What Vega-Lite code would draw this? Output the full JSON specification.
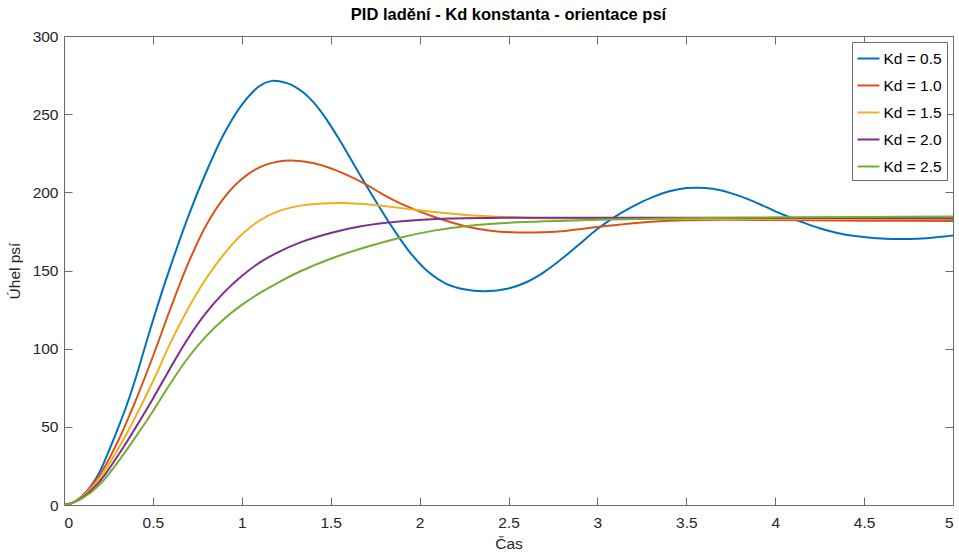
{
  "$schema": "https://vega.github.io/schema/vega-lite/v6.json",
  "autosize": "none",
  "width": 889,
  "height": 469,
  "padding": {"left": 64, "top": 36, "right": 6, "bottom": 49},
  "background": "white",
  "title": {
    "text": "PID ladění - Kd konstanta - orientace psí",
    "font": "Liberation Sans",
    "fontSize": 16.5,
    "fontWeight": "bold",
    "color": "#000000",
    "anchor": "middle",
    "offset": 6
  },
  "config": {
    "font": "Liberation Sans",
    "view": {"stroke": null},
    "axis": {
      "grid": false,
      "domainColor": "#6b6b6b",
      "domainWidth": 1,
      "tickColor": "#6b6b6b",
      "tickWidth": 1,
      "tickSize": -8,
      "labelFont": "Liberation Sans",
      "labelFontSize": 15.5,
      "labelColor": "#262626",
      "titleFont": "Liberation Sans",
      "titleFontSize": 15.5,
      "titleFontWeight": "normal",
      "titleColor": "#262626"
    }
  },
  "data": {
    "values": [
      {"t": 0, "s": "Kd = 0.5", "v": 0}, {"t": 0.05, "s": "Kd = 0.5", "v": 1.5}, {"t": 0.1, "s": "Kd = 0.5", "v": 5.5}, {"t": 0.15, "s": "Kd = 0.5", "v": 12}, {"t": 0.2, "s": "Kd = 0.5", "v": 21}, {"t": 0.25, "s": "Kd = 0.5", "v": 34}, {"t": 0.3, "s": "Kd = 0.5", "v": 48}, {"t": 0.35, "s": "Kd = 0.5", "v": 63}, {"t": 0.4, "s": "Kd = 0.5", "v": 80}, {"t": 0.45, "s": "Kd = 0.5", "v": 99}, {"t": 0.5, "s": "Kd = 0.5", "v": 118}, {"t": 0.55, "s": "Kd = 0.5", "v": 136}, {"t": 0.6, "s": "Kd = 0.5", "v": 153}, {"t": 0.7, "s": "Kd = 0.5", "v": 185}, {"t": 0.8, "s": "Kd = 0.5", "v": 213}, {"t": 0.9, "s": "Kd = 0.5", "v": 237.5}, {"t": 1.0, "s": "Kd = 0.5", "v": 256}, {"t": 1.1, "s": "Kd = 0.5", "v": 268}, {"t": 1.17, "s": "Kd = 0.5", "v": 271.3}, {"t": 1.25, "s": "Kd = 0.5", "v": 270}, {"t": 1.3, "s": "Kd = 0.5", "v": 267.5}, {"t": 1.35, "s": "Kd = 0.5", "v": 263.5}, {"t": 1.4, "s": "Kd = 0.5", "v": 258}, {"t": 1.45, "s": "Kd = 0.5", "v": 251}, {"t": 1.55, "s": "Kd = 0.5", "v": 233.5}, {"t": 1.65, "s": "Kd = 0.5", "v": 214}, {"t": 1.75, "s": "Kd = 0.5", "v": 195}, {"t": 1.85, "s": "Kd = 0.5", "v": 177}, {"t": 1.95, "s": "Kd = 0.5", "v": 161}, {"t": 2.05, "s": "Kd = 0.5", "v": 149}, {"t": 2.15, "s": "Kd = 0.5", "v": 141.5}, {"t": 2.25, "s": "Kd = 0.5", "v": 138}, {"t": 2.37, "s": "Kd = 0.5", "v": 136.8}, {"t": 2.5, "s": "Kd = 0.5", "v": 138.5}, {"t": 2.6, "s": "Kd = 0.5", "v": 142.5}, {"t": 2.7, "s": "Kd = 0.5", "v": 149}, {"t": 2.8, "s": "Kd = 0.5", "v": 157.5}, {"t": 2.9, "s": "Kd = 0.5", "v": 167}, {"t": 3.0, "s": "Kd = 0.5", "v": 176.5}, {"t": 3.1, "s": "Kd = 0.5", "v": 184.5}, {"t": 3.2, "s": "Kd = 0.5", "v": 191}, {"t": 3.3, "s": "Kd = 0.5", "v": 196.5}, {"t": 3.4, "s": "Kd = 0.5", "v": 200.5}, {"t": 3.5, "s": "Kd = 0.5", "v": 202.7}, {"t": 3.56, "s": "Kd = 0.5", "v": 203}, {"t": 3.65, "s": "Kd = 0.5", "v": 202.3}, {"t": 3.75, "s": "Kd = 0.5", "v": 199.5}, {"t": 3.85, "s": "Kd = 0.5", "v": 195.5}, {"t": 3.95, "s": "Kd = 0.5", "v": 190.5}, {"t": 4.05, "s": "Kd = 0.5", "v": 185.5}, {"t": 4.15, "s": "Kd = 0.5", "v": 181}, {"t": 4.25, "s": "Kd = 0.5", "v": 177}, {"t": 4.35, "s": "Kd = 0.5", "v": 174}, {"t": 4.45, "s": "Kd = 0.5", "v": 172}, {"t": 4.55, "s": "Kd = 0.5", "v": 170.8}, {"t": 4.65, "s": "Kd = 0.5", "v": 170.2}, {"t": 4.75, "s": "Kd = 0.5", "v": 170.1}, {"t": 4.85, "s": "Kd = 0.5", "v": 170.6}, {"t": 4.95, "s": "Kd = 0.5", "v": 171.7}, {"t": 5.0, "s": "Kd = 0.5", "v": 172.4},

      {"t": 0, "s": "Kd = 1.0", "v": 0}, {"t": 0.05, "s": "Kd = 1.0", "v": 1.5}, {"t": 0.1, "s": "Kd = 1.0", "v": 5.5}, {"t": 0.2, "s": "Kd = 1.0", "v": 19}, {"t": 0.3, "s": "Kd = 1.0", "v": 40}, {"t": 0.4, "s": "Kd = 1.0", "v": 66}, {"t": 0.5, "s": "Kd = 1.0", "v": 95}, {"t": 0.6, "s": "Kd = 1.0", "v": 126}, {"t": 0.7, "s": "Kd = 1.0", "v": 155}, {"t": 0.8, "s": "Kd = 1.0", "v": 179}, {"t": 0.9, "s": "Kd = 1.0", "v": 196.5}, {"t": 1.0, "s": "Kd = 1.0", "v": 208.5}, {"t": 1.1, "s": "Kd = 1.0", "v": 216}, {"t": 1.2, "s": "Kd = 1.0", "v": 219.5}, {"t": 1.28, "s": "Kd = 1.0", "v": 220.3}, {"t": 1.4, "s": "Kd = 1.0", "v": 218.7}, {"t": 1.52, "s": "Kd = 1.0", "v": 214.5}, {"t": 1.7, "s": "Kd = 1.0", "v": 205}, {"t": 1.78, "s": "Kd = 1.0", "v": 199.6}, {"t": 1.9, "s": "Kd = 1.0", "v": 192.5}, {"t": 2.08, "s": "Kd = 1.0", "v": 184.4}, {"t": 2.27, "s": "Kd = 1.0", "v": 178}, {"t": 2.4, "s": "Kd = 1.0", "v": 175.5}, {"t": 2.55, "s": "Kd = 1.0", "v": 174.3}, {"t": 2.7, "s": "Kd = 1.0", "v": 174.5}, {"t": 2.83, "s": "Kd = 1.0", "v": 175.5}, {"t": 3.0, "s": "Kd = 1.0", "v": 177.8}, {"t": 3.2, "s": "Kd = 1.0", "v": 180.3}, {"t": 3.4, "s": "Kd = 1.0", "v": 181.8}, {"t": 3.7, "s": "Kd = 1.0", "v": 182.4}, {"t": 4.0, "s": "Kd = 1.0", "v": 182.3}, {"t": 4.5, "s": "Kd = 1.0", "v": 181.9}, {"t": 5.0, "s": "Kd = 1.0", "v": 181.6},

      {"t": 0, "s": "Kd = 1.5", "v": 0}, {"t": 0.05, "s": "Kd = 1.5", "v": 1.5}, {"t": 0.1, "s": "Kd = 1.5", "v": 5}, {"t": 0.2, "s": "Kd = 1.5", "v": 17}, {"t": 0.3, "s": "Kd = 1.5", "v": 35}, {"t": 0.4, "s": "Kd = 1.5", "v": 56}, {"t": 0.5, "s": "Kd = 1.5", "v": 79}, {"t": 0.6, "s": "Kd = 1.5", "v": 104}, {"t": 0.7, "s": "Kd = 1.5", "v": 126}, {"t": 0.8, "s": "Kd = 1.5", "v": 145}, {"t": 0.9, "s": "Kd = 1.5", "v": 160.5}, {"t": 1.0, "s": "Kd = 1.5", "v": 173}, {"t": 1.1, "s": "Kd = 1.5", "v": 182}, {"t": 1.2, "s": "Kd = 1.5", "v": 187.7}, {"t": 1.33, "s": "Kd = 1.5", "v": 191.5}, {"t": 1.45, "s": "Kd = 1.5", "v": 192.9}, {"t": 1.57, "s": "Kd = 1.5", "v": 193.2}, {"t": 1.7, "s": "Kd = 1.5", "v": 192.4}, {"t": 1.8, "s": "Kd = 1.5", "v": 191.2}, {"t": 2.0, "s": "Kd = 1.5", "v": 188.5}, {"t": 2.2, "s": "Kd = 1.5", "v": 186.2}, {"t": 2.36, "s": "Kd = 1.5", "v": 184.9}, {"t": 2.6, "s": "Kd = 1.5", "v": 183.8}, {"t": 3.0, "s": "Kd = 1.5", "v": 183.2}, {"t": 4.0, "s": "Kd = 1.5", "v": 183}, {"t": 5.0, "s": "Kd = 1.5", "v": 183},

      {"t": 0, "s": "Kd = 2.0", "v": 0}, {"t": 0.05, "s": "Kd = 2.0", "v": 1.5}, {"t": 0.1, "s": "Kd = 2.0", "v": 4.5}, {"t": 0.2, "s": "Kd = 2.0", "v": 15}, {"t": 0.3, "s": "Kd = 2.0", "v": 31}, {"t": 0.4, "s": "Kd = 2.0", "v": 49}, {"t": 0.5, "s": "Kd = 2.0", "v": 68}, {"t": 0.6, "s": "Kd = 2.0", "v": 88}, {"t": 0.7, "s": "Kd = 2.0", "v": 107}, {"t": 0.8, "s": "Kd = 2.0", "v": 123}, {"t": 0.9, "s": "Kd = 2.0", "v": 136}, {"t": 1.0, "s": "Kd = 2.0", "v": 146.5}, {"t": 1.1, "s": "Kd = 2.0", "v": 155}, {"t": 1.2, "s": "Kd = 2.0", "v": 161.5}, {"t": 1.33, "s": "Kd = 2.0", "v": 168}, {"t": 1.5, "s": "Kd = 2.0", "v": 174}, {"t": 1.67, "s": "Kd = 2.0", "v": 178.3}, {"t": 1.9, "s": "Kd = 2.0", "v": 181.5}, {"t": 2.17, "s": "Kd = 2.0", "v": 183.2}, {"t": 2.5, "s": "Kd = 2.0", "v": 183.8}, {"t": 3.0, "s": "Kd = 2.0", "v": 183.8}, {"t": 4.0, "s": "Kd = 2.0", "v": 183.6}, {"t": 5.0, "s": "Kd = 2.0", "v": 183.5},

      {"t": 0, "s": "Kd = 2.5", "v": 0}, {"t": 0.05, "s": "Kd = 2.5", "v": 1.5}, {"t": 0.1, "s": "Kd = 2.5", "v": 4}, {"t": 0.2, "s": "Kd = 2.5", "v": 13}, {"t": 0.3, "s": "Kd = 2.5", "v": 27}, {"t": 0.4, "s": "Kd = 2.5", "v": 43}, {"t": 0.5, "s": "Kd = 2.5", "v": 60}, {"t": 0.6, "s": "Kd = 2.5", "v": 78}, {"t": 0.7, "s": "Kd = 2.5", "v": 94.5}, {"t": 0.8, "s": "Kd = 2.5", "v": 108}, {"t": 0.9, "s": "Kd = 2.5", "v": 119}, {"t": 1.0, "s": "Kd = 2.5", "v": 128}, {"t": 1.1, "s": "Kd = 2.5", "v": 135.5}, {"t": 1.2, "s": "Kd = 2.5", "v": 142}, {"t": 1.33, "s": "Kd = 2.5", "v": 149.5}, {"t": 1.5, "s": "Kd = 2.5", "v": 157.5}, {"t": 1.7, "s": "Kd = 2.5", "v": 165}, {"t": 1.89, "s": "Kd = 2.5", "v": 171}, {"t": 2.08, "s": "Kd = 2.5", "v": 175.5}, {"t": 2.27, "s": "Kd = 2.5", "v": 178.5}, {"t": 2.55, "s": "Kd = 2.5", "v": 180.8}, {"t": 2.83, "s": "Kd = 2.5", "v": 181.9}, {"t": 3.0, "s": "Kd = 2.5", "v": 182.4}, {"t": 3.5, "s": "Kd = 2.5", "v": 183.4}, {"t": 4.0, "s": "Kd = 2.5", "v": 184}, {"t": 4.5, "s": "Kd = 2.5", "v": 184.3}, {"t": 5.0, "s": "Kd = 2.5", "v": 184.6}
    ]
  },
  "layer": [
    {
      "mark": {"type": "line", "strokeWidth": 2, "interpolate": "catmull-rom", "clip": true},
      "encoding": {
        "x": {
          "field": "t", "type": "quantitative",
          "scale": {"domain": [0, 5], "nice": false, "zero": false},
          "axis": {"orient": "bottom", "values": [0, 0.5, 1, 1.5, 2, 2.5, 3, 3.5, 4, 4.5, 5], "format": "~g", "title": "Čas", "labelPadding": 18, "titlePadding": 6}
        },
        "y": {
          "field": "v", "type": "quantitative",
          "scale": {"domain": [0, 300], "nice": false, "zero": false},
          "axis": {"orient": "left", "values": [0, 50, 100, 150, 200, 250, 300], "title": "Úhel psí", "labelPadding": 14, "titlePadding": 10}
        },
        "color": {
          "field": "s", "type": "nominal",
          "scale": {"domain": ["Kd = 0.5", "Kd = 1.0", "Kd = 1.5", "Kd = 2.0", "Kd = 2.5"], "range": ["#0072BD", "#D95319", "#EDB120", "#7E2F8E", "#77AC30"]},
          "legend": {
            "title": null,
            "orient": "top-right",
            "offset": 6,
            "symbolType": "stroke",
            "symbolSize": 484,
            "symbolStrokeWidth": 2,
            "labelFont": "Liberation Sans",
            "labelFontSize": 15.5,
            "labelColor": "#000000",
            "labelOffset": 3,
            "rowPadding": 6,
            "padding": 4.5,
            "strokeColor": "#6b6b6b",
            "fillColor": "white",
            "cornerRadius": 0
          }
        }
      }
    },
    {
      "mark": {"type": "line", "strokeOpacity": 0},
      "encoding": {
        "x": {
          "field": "t", "type": "quantitative",
          "axis": {"orient": "top", "values": [0, 0.5, 1, 1.5, 2, 2.5, 3, 3.5, 4, 4.5, 5], "labels": false, "title": null}
        },
        "y": {
          "field": "v", "type": "quantitative",
          "axis": {"orient": "right", "values": [0, 50, 100, 150, 200, 250, 300], "labels": false, "title": null}
        },
        "detail": {"field": "s"}
      }
    }
  ],
  "resolve": {"axis": {"x": "independent", "y": "independent"}}
}
